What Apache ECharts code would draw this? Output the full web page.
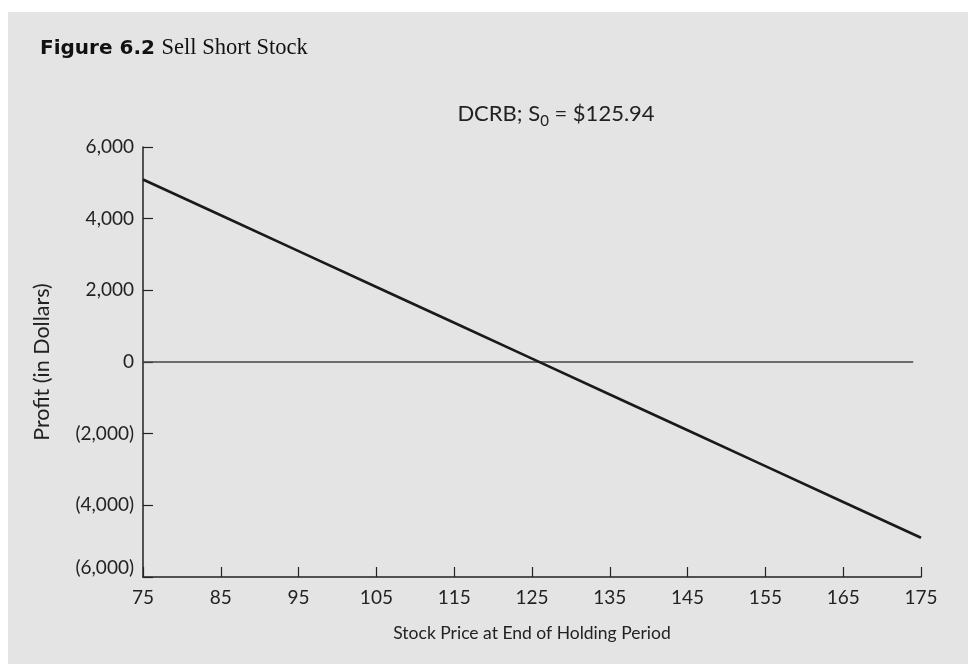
<!DOCTYPE html>
<html><head><meta charset="utf-8">
<script src="https://cdn.jsdelivr.net/npm/echarts@6/dist/echarts.min.js"></script>
<style>html,body{margin:0;padding:0;background:#fff}#c{width:968px;height:664px}</style>
</head><body><div id="c"></div>
<script>
const stockPrices = [75, 85, 95, 105, 115, 125, 135, 145, 155, 165, 175];
const profits = [5094, 4094, 3094, 2094, 1094, 94, -906, -1906, -2906, -3906, -4906];
const zeroLineX = [75, 174];
const zeroLineY = [0, 0];
const yTicks = [-6000, -4000, -2000, 0, 2000, 4000, 6000];
const xTicks = [75, 85, 95, 105, 115, 125, 135, 145, 155, 165, 175];

const chart = echarts.init(document.getElementById('c'), null, {renderer: 'canvas'});
const font = 'Lato, "Open Sans", sans-serif';
function fmtY(v) {
  const s = Math.abs(v).toLocaleString('en-US');
  return v < 0 ? '(' + s + ')' : s;
}
chart.setOption({
  backgroundColor: '#ffffff',
  animation: false,
  graphic: [
    {type: 'rect', left: 8, top: 12, shape: {width: 960, height: 652}, style: {fill: '#e4e4e4'}, z: -10},
    {type: 'text', left: 40, top: 37, style: {
      text: '{b|Figure 6.2}  {s|Sell Short Stock}',
      rich: {
        b: {fontFamily: '"DejaVu Sans", sans-serif', fontWeight: 900, fontSize: 20, fill: '#111'},
        s: {fontFamily: '"Liberation Serif", serif', fontSize: 22.5, fill: '#111'}
      }
    }}
  ],
  title: {
    text: '{t|DCRB; S}{sub|0}{t| = $125.94}',
    left: 551, textAlign: 'center', top: 96,
    textStyle: {
      rich: {
        t: {fontFamily: font, fontSize: 22, fontWeight: 'normal', color: '#222', lineHeight: 26},
        sub: {fontFamily: font, fontSize: 15, fontWeight: 'normal', color: '#222', lineHeight: 16, padding: [14, 0, 0, 0]}
      }
    }
  },
  grid: {left: 143, right: 47, top: 147, bottom: 87, containLabel: false},
  xAxis: {
    type: 'value', min: 75, max: 175, interval: 10,
    name: 'Stock Price at End of Holding Period', nameLocation: 'middle', nameGap: 47,
    nameTextStyle: {fontFamily: font, fontSize: 17.5, color: '#222'},
    axisLine: {onZero: false, lineStyle: {color: '#222', width: 1.5}},
    axisTick: {show: true, inside: true, length: 10, lineStyle: {color: '#222', width: 1.2}},
    axisLabel: {fontFamily: font, fontSize: 19, color: '#222', margin: 11,
      formatter: v => xTicks.includes(v) ? String(v) : ''},
    splitLine: {show: false}
  },
  yAxis: {
    type: 'value', min: -6000, max: 6000, interval: 2000,
    name: 'Profit (in Dollars)', nameLocation: 'middle', nameGap: 90, nameRotate: 90,
    nameTextStyle: {fontFamily: font, fontSize: 21.5, color: '#222'},
    axisLine: {show: true, onZero: false, lineStyle: {color: '#222', width: 1.5}},
    axisTick: {show: true, inside: true, length: 10, lineStyle: {color: '#222', width: 1.2}},
    axisLabel: {fontFamily: font, fontSize: 19, color: '#222', margin: 9,
      verticalAlignMinLabel: 'bottom',
      formatter: v => yTicks.includes(v) ? fmtY(v) : ''},
    splitLine: {show: false}
  },
  series: [
    {type: 'line', data: zeroLineX.map((x, i) => [x, zeroLineY[i]]), symbol: 'none',
      lineStyle: {color: '#444', width: 1.3}, z: 1, silent: true},
    {type: 'line', data: stockPrices.map((x, i) => [x, profits[i]]), symbol: 'none',
      lineStyle: {color: '#1a1a1a', width: 2.6}, z: 2}
  ]
});
</script></body></html>
